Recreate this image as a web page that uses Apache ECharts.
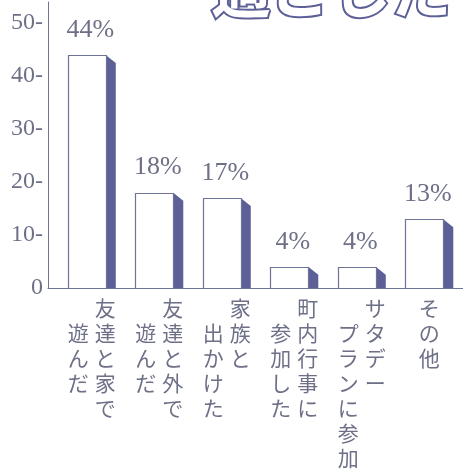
<!DOCTYPE html>
<html>
<head>
<meta charset="utf-8">
<script src="https://cdn.jsdelivr.net/npm/echarts@6/dist/echarts.min.js"></script>
<style>
html,body{margin:0;padding:0;background:#fff;}
#c{width:463px;height:471px;}
</style>
</head>
<body>
<div id="c"></div>
<script>
// Data
const categories = ['友達と家で遊んだ', '友達と外で遊んだ', '家族と出かけた', '町内行事に参加した', 'サタデープランに参加', 'その他'];
const labelRight = ['友達と家で', '友達と外で', '家族と', '町内行事に', 'サタデー', 'その他'];
const labelLeft  = ['遊んだ', '遊んだ', '出かけた', '参加した', 'プランに参加', ''];
const values = [44, 18, 17, 4, 4, 13];
const yTicks = [0, 10, 20, 30, 40, 50];
const titleText = '過ごした';

const INK = '#6e7088';
const DARK = '#5c6096';
const LINE = '#6f7396';

function verticalLabel(idx) {
  const R = labelRight[idx], L = labelLeft[idx];
  const rows = [];
  if (!L) {
    for (const ch of R) rows.push('{c|' + ch + '}');
    return rows.join('\n');
  }
  const n = Math.max(R.length, L.length + 1);
  for (let k = 0; k < n; k++) {
    const r = R[k] || '\u3000';
    const l = k === 0 ? '\u3000' : (L[k - 1] || '\u3000');
    rows.push('{a|' + l + '}{a|' + r + '}');
  }
  return rows.join('\n');
}

const cjkStyle = {
  width: 27, align: 'center', fontSize: 21, lineHeight: 25,
  fontFamily: 'Noto Sans CJK JP', color: INK
};

const chart = echarts.init(document.getElementById('c'), null, {renderer: 'canvas'});
chart.setOption({
  animation: false,
  backgroundColor: '#fff',
  title: {
    text: titleText,
    left: 206,
    top: -45,
    textStyle: {
      fontFamily: 'Noto Sans CJK JP',
      fontWeight: 'bold',
      fontSize: 60,
      color: '#fff',
      textBorderColor: DARK,
      textBorderWidth: 4,
      textShadowColor: DARK,
      textShadowOffsetX: 4,
      textShadowOffsetY: 4,
      textShadowBlur: 0
    }
  },
  grid: [
    {left: 58, right: 0, top: 2, bottom: 183},
    {left: 48, width: 10, top: 2, bottom: 183}
  ],
  xAxis: [
    {
      type: 'category',
      gridIndex: 0,
      data: categories,
      axisLine: {lineStyle: {color: LINE, width: 1}},
      axisTick: {show: false},
      axisLabel: {
        interval: 0,
        margin: 8,
        verticalAlign: 'top',
        formatter: function (val, idx) { return verticalLabel(idx); },
        rich: {a: cjkStyle, c: cjkStyle}
      }
    },
    {
      type: 'value',
      gridIndex: 1,
      min: 0, max: 1,
      axisLine: {show: true, lineStyle: {color: LINE, width: 1}},
      axisTick: {show: false},
      axisLabel: {show: false},
      splitLine: {show: false}
    }
  ],
  yAxis: [
    {
      type: 'value',
      gridIndex: 0,
      min: 0, max: 54, interval: 10,
      offset: 10,
      axisLine: {show: true, lineStyle: {color: LINE, width: 1}},
      axisTick: {show: false},
      splitLine: {show: false},
      axisLabel: {
        margin: 5,
        fontFamily: 'Liberation Serif',
        fontSize: 24,
        color: INK,
        formatter: function (v) {
          if (yTicks.indexOf(v) < 0) return '';
          return v === 0 ? '0' : v + '-';
        }
      }
    },
    {type: 'value', gridIndex: 1, show: false}
  ],
  series: [{
    type: 'custom',
    xAxisIndex: 0, yAxisIndex: 0,
    clip: false,
    data: values.map((v, i) => [i, v]),
    encode: {x: 0, y: 1},
    renderItem: function (params, api) {
      const i = api.value(0), v = api.value(1);
      const base = api.coord([i, 0]);
      const top = api.coord([i, v]);
      const band = api.size([1, 0])[0];
      const cx = base[0];
      const fL = cx - band * 0.356;
      const fR = cx + band * 0.207;
      const sR = cx + band * 0.356;
      const drop = 8;
      return {
        type: 'group',
        children: [
          {
            type: 'polygon',
            shape: {points: [[fR, top[1]], [sR, top[1] + drop], [sR, base[1]], [fR, base[1]]]},
            style: {fill: DARK}
          },
          {
            type: 'rect',
            shape: {x: Math.round(fL) + 0.5, y: Math.round(top[1]) + 0.5, width: Math.round(fR - fL), height: Math.round(base[1] - top[1])},
            style: {fill: '#fff', stroke: LINE, lineWidth: 1.2}
          },
          {
            type: 'text',
            style: {
              x: cx - 1.5, y: top[1] - 12,
              text: v + '%',
              align: 'center', verticalAlign: 'bottom',
              fontFamily: 'Liberation Serif', fontSize: 26, fill: INK
            }
          }
        ]
      };
    }
  }]
});
</script>
</body>
</html>
